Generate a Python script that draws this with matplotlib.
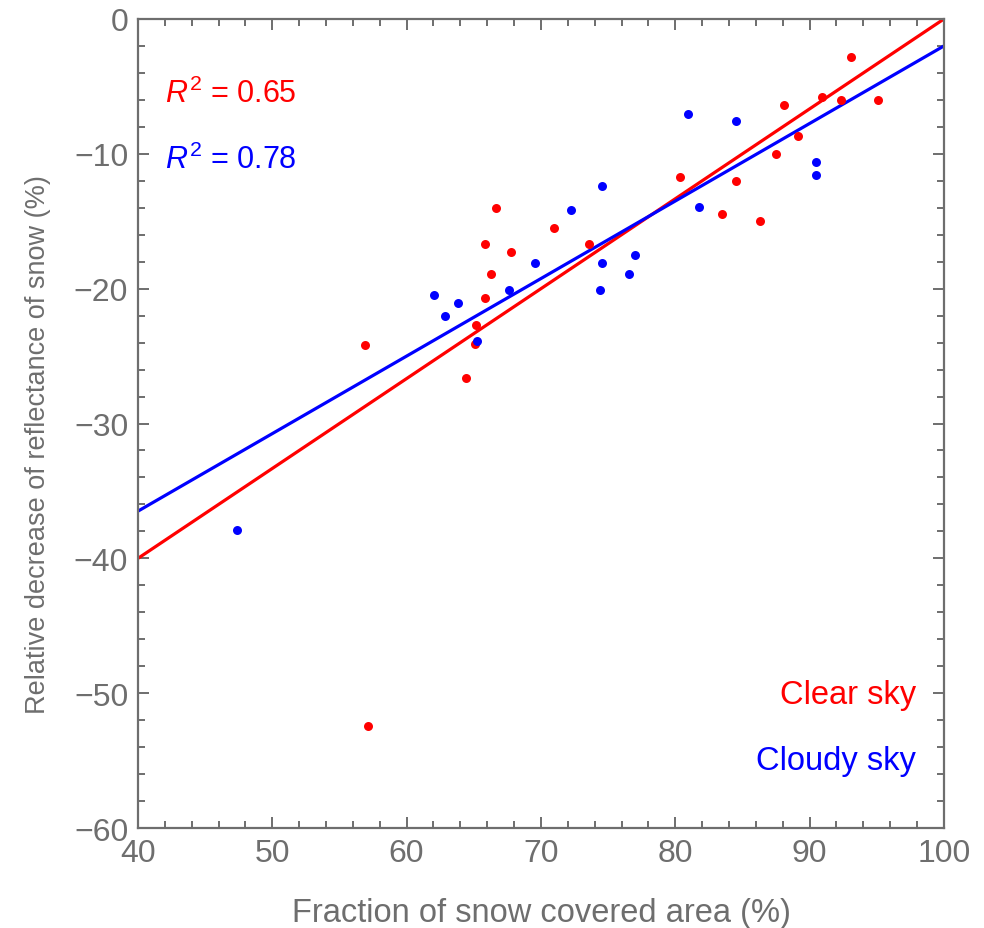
import matplotlib
matplotlib.use('Agg')
import matplotlib.pyplot as plt
import numpy as np
from matplotlib.ticker import MultipleLocator

plt.rcParams['font.family'] = ['Liberation Sans', 'DejaVu Sans']
plt.rcParams['mathtext.fontset'] = 'custom'
plt.rcParams['mathtext.rm'] = 'Liberation Sans'
plt.rcParams['mathtext.it'] = 'Liberation Sans:italic'

# clear sky points
clear_x = [56.9, 57.1, 64.45, 65.1, 65.2, 65.8, 65.8, 66.3, 66.65, 67.8, 71.0, 73.6,
           80.35, 83.5, 84.5, 86.3, 87.5, 88.1, 89.1, 90.9, 92.3, 93.05, 95.1]
clear_y = [-24.2, -52.4, -26.6, -24.1, -22.7, -20.7, -16.7, -18.9, -14.0, -17.3, -15.5, -16.7,
           -11.75, -14.5, -12.0, -15.0, -10.0, -6.4, -8.65, -5.8, -6.0, -2.85, -6.0]

# cloudy sky points
cloudy_x = [47.35, 62.05, 62.85, 63.85, 65.25, 67.6, 69.55, 72.2, 74.55, 74.55, 74.4,
            76.55, 77.0, 80.95, 81.75, 84.5, 90.5, 90.5]
cloudy_y = [-37.9, -20.5, -22.05, -21.05, -23.9, -20.1, -18.1, -14.2, -12.35, -18.1, -20.1,
            -18.9, -17.5, -7.05, -13.95, -7.6, -10.6, -11.6]

# fitted lines (slope, intercept)
clear_fit = [0.6667, -66.67]
cloudy_fit = [0.575, -59.5]
r2_clear = 0.65
r2_cloudy = 0.78

gray = '#6e6e6e'
red = '#ff0000'
blue = '#0000ff'

fig = plt.figure(figsize=(9.84, 9.29), dpi=100)
ax = fig.add_axes([0.1402, 0.1076, 0.8191, 0.8709])

xs = np.array([40, 100])
ax.plot(xs, clear_fit[0] * xs + clear_fit[1], color=red, lw=2.3, zorder=2)
ax.plot(xs, cloudy_fit[0] * xs + cloudy_fit[1], color=blue, lw=2.3, zorder=2)
ax.scatter(clear_x, clear_y, s=42, color=red, zorder=3, linewidths=0)
ax.scatter(cloudy_x, cloudy_y, s=42, color=blue, zorder=3, linewidths=0)

ax.set_xlim(40, 100)
ax.set_ylim(-60, 0)
ax.xaxis.set_major_locator(MultipleLocator(10))
ax.xaxis.set_minor_locator(MultipleLocator(2))
ax.yaxis.set_major_locator(MultipleLocator(10))
ax.yaxis.set_minor_locator(MultipleLocator(2))
ax.tick_params(which='both', direction='in', top=True, right=True, color=gray,
               labelcolor=gray, labelsize=23, width=1.4)
ax.tick_params(which='major', length=8, pad=7)
ax.tick_params(which='minor', length=5)
for sp in ax.spines.values():
    sp.set_color(gray)
    sp.set_linewidth(1.6)

ax.set_xlabel('Fraction of snow covered area (%)', fontsize=23.5, color=gray, labelpad=21)
ax.set_ylabel('Relative decrease of reflectance of snow (%)', fontsize=19.5, color=gray)
ax.yaxis.set_label_coords(-0.108, 0.475)

ax.text(42.0, -5.5, r'$R^2$ = %.2f' % r2_clear, color=red, fontsize=22, va='center', ha='left')
ax.text(42.0, -10.4, r'$R^2$ = %.2f' % r2_cloudy, color=blue, fontsize=22, va='center', ha='left')
ax.text(97.9, -50.1, 'Clear sky', color=red, fontsize=23.5, va='center', ha='right')
ax.text(97.9, -55.0, 'Cloudy sky', color=blue, fontsize=23.5, va='center', ha='right')

fig.savefig('out.png', dpi=100)
